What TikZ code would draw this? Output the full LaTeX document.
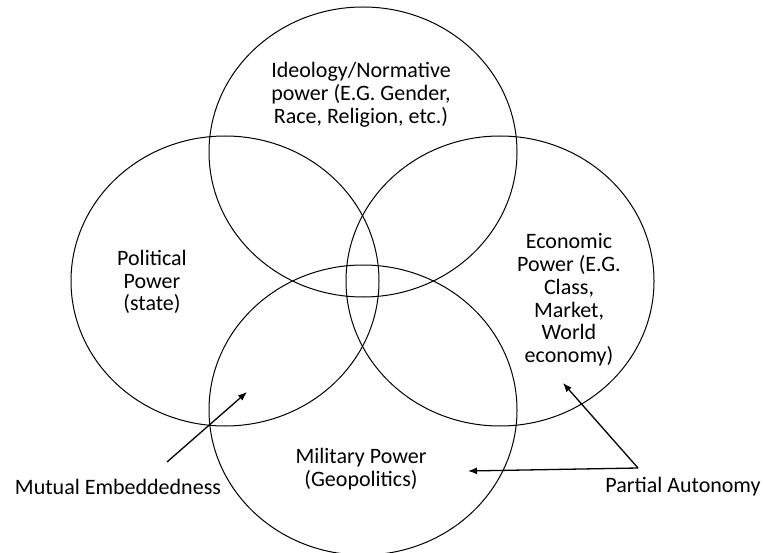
\documentclass[tikz,border=0pt]{standalone}
\usepackage{fontspec}
\setmainfont{Carlito}
\usetikzlibrary{arrows,arrows.meta,shapes.geometric}
\tikzset{ 
   sphere/.style  = {ellipse, draw, line width=1pt, minimum width=308pt, minimum height=290pt, inner sep=0pt, },
   caption/.style = {align=center, inner sep=0pt, font=\fontsize{22}{22.8}\selectfont, },
   arrow/.style   = {-{Latex[length=9pt,width=7pt]}, line width=1.3pt, },
   line/.style    = {-, line width=1.3pt, },
}

\begin{document}
\begin{tikzpicture}[x=1pt,y=-1pt]

      \useasboundingbox (0,0) rectangle (765,553);

      % the four spheres of power
      \node[sphere] (ideology)  at (363,152) {};
      \node[sphere] (political) at (225,281) {};
      \node[sphere] (economic)  at (500,281) {};
      \node[sphere] (military)  at (363,410) {};

      \node[caption] (ideologytext)  at (361,95)  {Ideology/Normative\\power (E.G. Gender,\\Race, Religion, etc.)};
      \node[caption] (politicaltext) at (152,282) {Political\\Power\\(state)};
      \node[caption] (economictext)  at (569,300) {Economic\\Power (E.G.\\Class,\\Market,\\World\\economy)};
      \node[caption] (militarytext)  at (361,469) {Military Power\\(Geopolitics)};

      \node[caption] (mutual)  at (118,487) {Mutual Embeddedness};
      \node[caption] (partial) at (683,487) {Partial Autonomy};

      \coordinate (mutualtail) at (167,462);
      \coordinate (mutualtip)  at (247,392);
      \coordinate (apex)       at (638,468);
      \coordinate (econtip)    at (563,383);
      \coordinate (miltip)     at (468,471);

      \draw[arrow] (mutualtail) -- (mutualtip);
      \draw[arrow] (apex)       -- (econtip);
      \draw[arrow] (apex)       -- (miltip);
   \end{tikzpicture}
\end{document}
